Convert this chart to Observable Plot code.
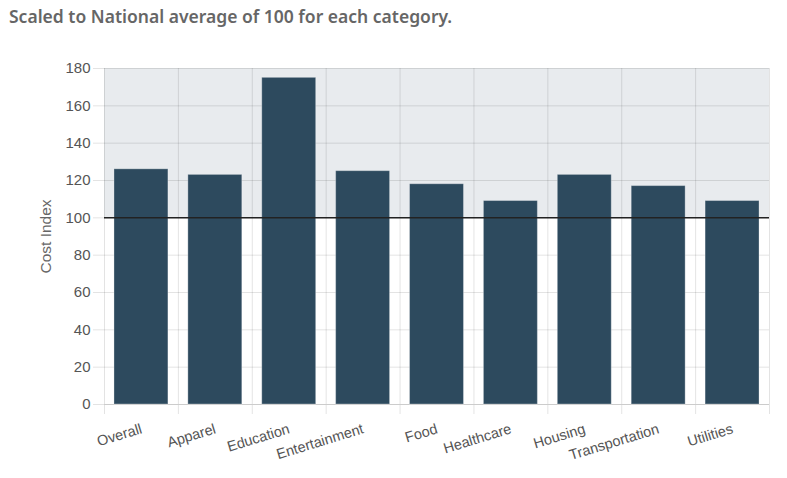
<!DOCTYPE html>
<html>
<head>
<meta charset="utf-8">
<script src="https://cdn.jsdelivr.net/npm/d3@7"></script>
<script src="https://cdn.jsdelivr.net/npm/@observablehq/plot@0.6"></script>
<style>
  body { margin: 0; background: #fff; width: 787px; height: 478px; overflow: hidden; }
  #title { font-family: "Noto Sans", sans-serif; font-weight: 600; font-size: 17.5px; color: #666; padding: 4px 0 0 9px; height: 40px; box-sizing: border-box; white-space: nowrap; }
  svg { display: block; }
</style>
</head>
<body>
<div id="title">Scaled to National average of 100 for each category.</div>
<div id="chart"></div>
<script>
const categories = ["Overall", "Apparel", "Education", "Entertainment", "Food", "Healthcare", "Housing", "Transportation", "Utilities"];
const values = [126, 123, 175, 125, 118, 109, 123, 117, 109];
const yTicks = [0, 20, 40, 60, 80, 100, 120, 140, 160, 180];
const baseline = 100;
const yLabel = "Cost Index";

const data = categories.map((c, i) => ({category: c, value: values[i]}));

const width = 787, height = 438;
const marginLeft = 104, marginRight = 18;
const step = (width - marginLeft - marginRight) / categories.length;

const chart = Plot.plot({
  width, height,
  marginTop: 28, marginBottom: 74, marginLeft, marginRight,
  style: {fontFamily: "'Liberation Sans', Arial, sans-serif", fontSize: "14px", color: "#555", background: "#fff"},
  x: {domain: categories, paddingInner: 0.27, paddingOuter: 0.135, round: false, axis: null},
  y: {domain: [0, 180], axis: null},
  marks: [
    Plot.rect([{}], {y1: baseline, y2: 180, fill: "#e8ebee"}),
    Plot.ruleY(yTicks, {stroke: "#000", strokeOpacity: 0.11, insetLeft: -11}),
    Plot.ruleX(categories, {x: d => d, y1: 180, y2: 0, dx: -step / 2, stroke: "#000", strokeOpacity: 0.11, insetBottom: -10}),
    Plot.ruleX([categories[categories.length - 1]], {x: d => d, y1: 180, y2: 0, dx: step / 2, stroke: "#000", strokeOpacity: 0.11, insetBottom: -10}),
    Plot.ruleY([0], {stroke: "#ccc"}),
    Plot.barY(data, {x: "category", y: "value", fill: "#2d4a5e", stroke: "#fff", strokeOpacity: 0.3, strokeWidth: 1}),
    Plot.ruleY([baseline], {stroke: "#222", strokeWidth: 1.5}),
    Plot.text(yTicks, {y: d => d, text: d => String(d), frameAnchor: "left", textAnchor: "end", dx: -14, fill: "#555", fontSize: 15}),
    Plot.text(categories, {x: d => d, text: d => d, frameAnchor: "bottom", dy: 24, textAnchor: "end", lineAnchor: "middle", rotate: -17, fill: "#555", fontSize: 14.5}),
    Plot.text([yLabel], {text: d => d, frameAnchor: "left", textAnchor: "middle", rotate: -90, dx: -58, fill: "#666", fontSize: 15.5})
  ]
});
document.getElementById("chart").appendChild(chart);
</script>
</body>
</html>
